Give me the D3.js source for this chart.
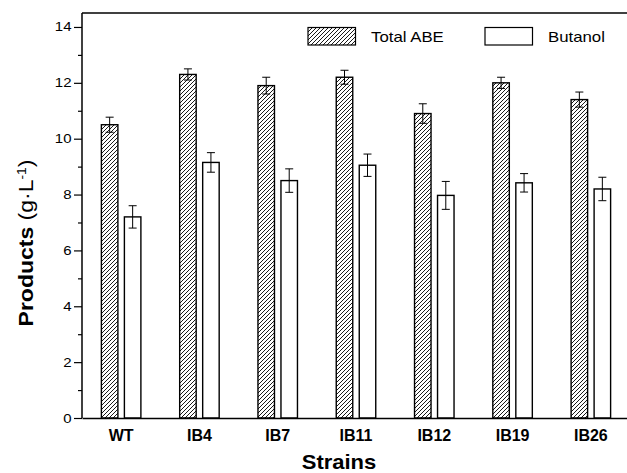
<!DOCTYPE html>
<html>
<head>
<meta charset="utf-8">
<script src="https://cdn.jsdelivr.net/npm/d3@7"></script>
<style>
    body { margin: 0; background: #fff; }
    text { font-family: Arial, "Liberation Sans", sans-serif; fill: #000; }
</style>
</head>
<body>
<div id="chart"></div>
<script>
    var strains = ['WT', 'IB4', 'IB7', 'IB11', 'IB12', 'IB19', 'IB26'];
    var totalAbe = [10.5, 12.3, 11.9, 12.2, 10.9, 12.0, 11.4];
    var totalAbeErr = [0.27, 0.2, 0.3, 0.25, 0.35, 0.2, 0.27];
    var butanol = [7.2, 9.15, 8.5, 9.05, 7.97, 8.42, 8.2];
    var butanolErr = [0.4, 0.35, 0.42, 0.4, 0.5, 0.33, 0.42];
    var yTicks = [0, 2, 4, 6, 8, 10, 12, 14];
    var yMinorTicks = [1, 3, 5, 7, 9, 11, 13];

    var W = 627, H = 473;
    var margin = { top: 13, right: -3, bottom: 55, left: 82 },
        width = W - margin.left - margin.right,
        height = H - margin.top - margin.bottom;

    // the source figure's lettering is a bit wider than Arial
    var stretch = 1.2;

    var svg = d3.select('#chart').append('svg')
        .attr('width', W)
        .attr('height', H);

    // diagonal hatch for Total ABE
    var defs = svg.append('defs');
    defs.append('pattern')
        .attr('id', 'hatch')
        .attr('patternUnits', 'userSpaceOnUse')
        .attr('width', 4)
        .attr('height', 4)
        .append('path')
        .attr('d', 'M-1,1 l2,-2 M0,4 l4,-4 M3,5 l2,-2')
        .attr('stroke', '#000')
        .attr('stroke-width', 0.9);

    var g = svg.append('g').attr('transform', 'translate(' + margin.left + ',' + margin.top + ')');

    var xScale = d3.scaleBand()
        .domain(strains)
        .range([0, width]);

    var yScale = d3.scaleLinear()
        .domain([0, 14.5])
        .range([height, 0]);

    var barW = 16.5, gap = 6.5;

    var series = [
        { name: 'Total ABE', values: totalAbe, err: totalAbeErr, fill: 'url(#hatch)', dx: -gap / 2 - barW },
        { name: 'Butanol', values: butanol, err: butanolErr, fill: '#fff', dx: gap / 2 }
    ];

    series.forEach(function (s) {
        var data = strains.map(function (d, i) { return { label: d, v: s.values[i], e: s.err[i] }; });
        var cx = function (d) { return xScale(d.label) + xScale.bandwidth() / 2 + s.dx; };

        g.selectAll(null)
            .data(data)
            .enter()
            .append('rect')
            .attr('x', cx)
            .attr('y', function (d) { return yScale(d.v); })
            .attr('width', barW)
            .attr('height', function (d) { return height - yScale(d.v); })
            .attr('fill', s.fill)
            .attr('stroke', '#000')
            .attr('stroke-width', 1.4);

        var eb = g.selectAll(null)
            .data(data)
            .enter()
            .append('g')
            .attr('stroke', '#000')
            .attr('stroke-width', 1);
        eb.append('line')
            .attr('x1', function (d) { return cx(d) + barW / 2; })
            .attr('x2', function (d) { return cx(d) + barW / 2; })
            .attr('y1', function (d) { return yScale(d.v + d.e); })
            .attr('y2', function (d) { return yScale(d.v - d.e); });
        [1, -1].forEach(function (sign) {
            eb.append('line')
                .attr('x1', function (d) { return cx(d) + barW / 2 - 4; })
                .attr('x2', function (d) { return cx(d) + barW / 2 + 4; })
                .attr('y1', function (d) { return yScale(d.v + sign * d.e); })
                .attr('y2', function (d) { return yScale(d.v + sign * d.e); });
        });
    });

    // frame: top line and axes
    g.append('line')
        .attr('x1', 0).attr('x2', width)
        .attr('y1', 0).attr('y2', 0)
        .attr('stroke', '#000').attr('stroke-width', 1.5);

    var yAxis = d3.axisLeft(yScale)
        .tickValues(yTicks)
        .tickSize(8)
        .tickFormat(d3.format('d'));

    var yg = g.append('g').call(yAxis);
    yg.select('.domain').attr('d', 'M0,0V' + height).attr('stroke-width', 1.5);
    yg.selectAll('.tick line').attr('stroke-width', 1.2);
    yg.selectAll('text')
        .attr('x', -10.5 / stretch)
        .attr('transform', 'scale(' + stretch + ',1)')
        .style('font-size', '12.5px');

    g.append('g')
        .call(d3.axisLeft(yScale).tickValues(yMinorTicks).tickSize(4).tickFormat(''))
        .call(function (a) { a.select('.domain').remove(); })
        .selectAll('.tick line').attr('stroke-width', 1.2);

    var xAxis = d3.axisBottom(xScale).tickSize(0).tickPadding(12);
    var xg = g.append('g')
        .attr('transform', 'translate(0,' + height + ')')
        .call(xAxis);
    xg.select('.domain').attr('stroke-width', 1.5);
    xg.selectAll('text')
        .style('font-size', '16px')
        .style('font-weight', 'bold');

    svg.append('text')
        .attr('transform', 'translate(339,469) scale(1.1,1)')
        .attr('text-anchor', 'middle')
        .style('font-size', '20px')
        .style('font-weight', 'bold')
        .text('Strains');

    var yt = svg.append('text')
        .attr('transform', 'translate(33,243) rotate(-90) scale(1.15,1)')
        .attr('text-anchor', 'middle')
        .style('font-size', '20px');
    yt.append('tspan').style('font-weight', 'bold').text('Products');
    yt.append('tspan').text(' (g·L');
    yt.append('tspan').attr('dy', -7).style('font-size', '12px').text('-1');
    yt.append('tspan').attr('dy', 7).text(')');

    // legend
    var legend = svg.append('g');
    var legendItems = [
        { name: 'Total ABE', fill: 'url(#hatch)', x: 308 },
        { name: 'Butanol', fill: '#fff', x: 485 }
    ];
    legendItems.forEach(function (d) {
        legend.append('rect')
            .attr('x', d.x).attr('y', 27.5)
            .attr('width', 47.5).attr('height', 17.5)
            .attr('fill', d.fill)
            .attr('stroke', '#000')
            .attr('stroke-width', 1.2);
        legend.append('text')
            .attr('transform', 'translate(' + (d.x + 63) + ',41.7) scale(' + stretch + ',1)')
            .style('font-size', '14px')
            .text(d.name);
    });
</script>
</body>
</html>
